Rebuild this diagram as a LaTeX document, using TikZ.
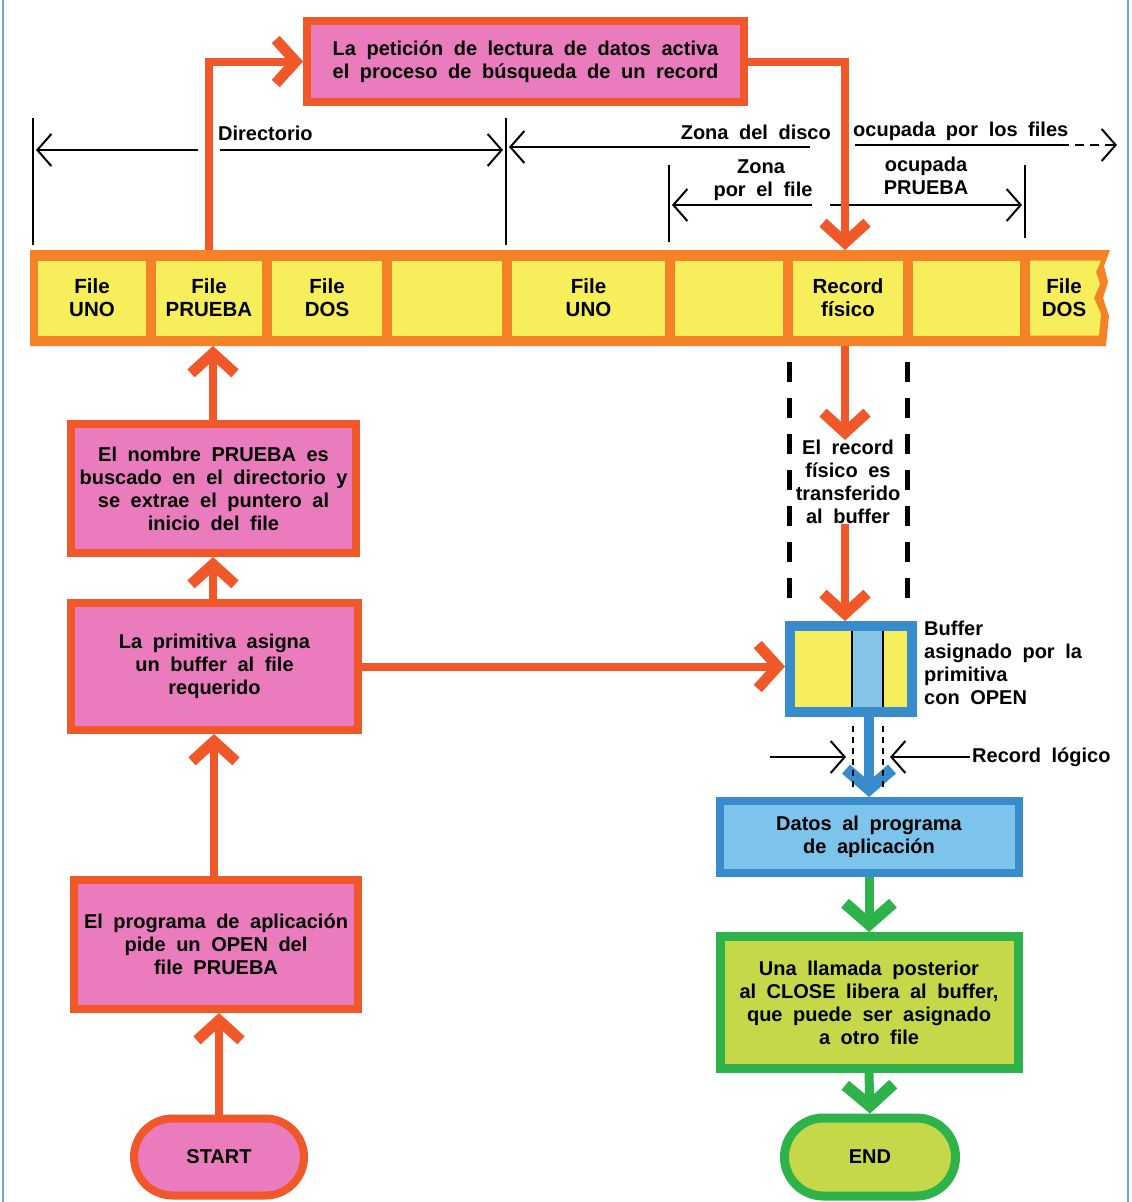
\documentclass[tikz,border=0pt]{standalone}
\usepackage{fontspec}
\setmainfont{Liberation Sans}[WordSpace=1.9]
\usetikzlibrary{arrows.meta,shapes.misc}

\definecolor{boxred}{RGB}{240,88,42}
\definecolor{stripor}{RGB}{246,130,40}
\definecolor{pinkfill}{RGB}{234,124,190}
\definecolor{cellyel}{RGB}{246,238,90}
\definecolor{bufblue}{RGB}{56,140,204}
\definecolor{datafill}{RGB}{124,196,236}
\definecolor{midblue}{RGB}{132,196,228}
\definecolor{grnline}{RGB}{46,178,74}
\definecolor{grnfill}{RGB}{196,216,74}
\definecolor{framebl}{RGB}{96,176,214}

\tikzset{
  every node/.style={font=\bfseries\fontsize{20}{23}\selectfont, text=black, inner sep=0pt},
  pinkbox/.style={draw=boxred, line width=8pt, fill=pinkfill, align=center},
  cellbox/.style={fill=cellyel, minimum height=75pt, align=center,
                  font=\bfseries\fontsize{20.5}{23}\selectfont},
  bluebox/.style={draw=bufblue, line width=8pt, fill=datafill, align=center},
  greenbox/.style={draw=grnline, line width=9pt, fill=grnfill, align=center},
  oarrow/.style={draw=boxred, line width=8pt,
                 -{Straight Barb[length=20pt,width=44pt,line width=0pt 1.35]}},
  garrow/.style={draw=grnline, line width=9pt,
                 -{Straight Barb[length=21pt,width=48pt,line width=0pt 1.3]}},
  barrow/.style={draw=bufblue, line width=10pt,
                 -{Straight Barb[length=20pt,width=46pt,line width=0pt 1.2]}},
  dimline/.style={draw=black, line width=2pt},
  dimarrow/.style={draw=black, line width=2pt, -{Straight Barb[length=14pt,width=32pt]}},
  lbl/.style={anchor=base},
}

\begin{document}
\begin{tikzpicture}[x=1pt,y=-1pt]
  \useasboundingbox (0,0) rectangle (1132,1202);
  \fill[white] (0,0) rectangle (1132,1202);

  % page frame
  \draw[framebl, line width=2pt] (3,0) -- (3,1202);
  \draw[framebl, line width=2pt] (1128,0) -- (1128,1202);

  % ---------- disk strip ----------
  \fill[stripor] (30,250) -- (1110,250) -- (1104,266) -- (1108,282) -- (1103,298)
      -- (1109,316) -- (1106,346) -- (30,346) -- cycle;
  \coordinate (disktop) at (0,250);
  \coordinate (diskbot) at (0,346);
  \node[cellbox, minimum width=108pt] (c1) at (92,298)    {File\\UNO};
  \node[cellbox, minimum width=106pt] (c2) at (209,298)   {File\\PRUEBA};
  \node[cellbox, minimum width=110pt] (c3) at (327,298)   {File\\DOS};
  \node[cellbox, minimum width=110pt] (c4) at (447,298)   {};
  \node[cellbox, minimum width=153pt] (c5) at (588.5,298) {File\\UNO};
  \node[cellbox, minimum width=108pt] (c6) at (729,298)   {};
  \node[cellbox, minimum width=110pt] (c7) at (848,298)   {Record\\físico};
  \node[cellbox, minimum width=107pt] (c8) at (966.5,298) {};
  \fill[cellyel] (1030,260.5) -- (1101,260.5) -- (1096,272) -- (1100,284) -- (1094,298)
      -- (1101,314) -- (1099,335.5) -- (1030,335.5) -- cycle;
  \node[align=center, font=\bfseries\fontsize{20.5}{23}\selectfont] (c9) at (1064,298) {File\\DOS};

  % ---------- top request box ----------
  \node[pinkbox, minimum width=437pt, minimum height=81pt, align=left] (req) at (525.5,61.5)
    {La petición de lectura de datos activa\\el proceso de búsqueda de un record};

  % ---------- dimension lines ----------
  \draw[dimline] (33,118) -- (33,245);
  \draw[dimline] (506,118) -- (506,245);
  \draw[dimarrow] (198,150) -- (36,150);
  \draw[dimarrow] (220,150) -- (503,150);
  \node[anchor=base west] (dirlbl) at (218,140) {Directorio};

  \draw[dimarrow] (810,147) -- (509,147);
  \node[anchor=base east] (zdisco) at (831,139) {Zona del disco};
  \draw[dimline] (855,145) -- (1060,145);
  \draw[dimarrow, dash pattern=on 9pt off 6pt] (1060,145) -- (1117,145);
  \node[anchor=base west] (zfiles) at (853,136) {ocupada por los files};

  \draw[dimline] (669,165) -- (669,242);
  \draw[dimline] (1025,165) -- (1025,238);
  \draw[dimarrow] (812,205) -- (672,205);
  \draw[dimarrow] (830,205) -- (1022,205);
  \node[lbl] (zona) at (761,173) {Zona};
  \node[lbl] (porfile) at (763,196) {por el file};
  \node[lbl] (ocup) at (926,171) {ocupada};
  \node[lbl] (prueba) at (926,194) {PRUEBA};

  % ---------- left column ----------
  \node[pinkbox, minimum width=285pt, minimum height=129pt] (b1) at (213.5,488.5)
    {El nombre PRUEBA es\\buscado en el directorio y\\se extrae el puntero al\\inicio del file};
  \node[pinkbox, minimum width=287pt, minimum height=127pt] (b2) at (214.5,666.5)
    {La primitiva asigna\\un buffer al file\\requerido};
  \node[pinkbox, minimum width=284pt, minimum height=129pt] (b3) at (216,944.5)
    {El programa de aplicación\\pide un OPEN del\\file PRUEBA};
  \node[pinkbox, rounded rectangle, minimum width=170pt, minimum height=77pt] (start) at (219,1157)
    {START};

  \draw[oarrow] (start.north) -- (start.north |- b3.south);
  \draw[oarrow] (b3.north -| 214,0) -- (214,0 |- b2.south);
  \draw[oarrow] (b2.north -| 213,0) -- (213,0 |- b1.south);
  \draw[oarrow] (b1.north -| 213,0) -- (213,0 |- diskbot);

  % request path: PRUEBA entry -> request box -> physical record
  \draw[oarrow] (c2.north |- disktop) |- (req.west);
  \draw[oarrow] (req.east) -| (845,0 |- disktop);

  % ---------- transfer to buffer ----------
  \draw[black, line width=5pt, dash pattern=on 20pt off 16pt] (789,362) -- (789,608);
  \draw[black, line width=5pt, dash pattern=on 20pt off 16pt] (907,362) -- (907,608);
  \node[align=center, fill=white, inner xsep=1pt] (xfer) at (848,482)
    {El record\\físico es\\transferido\\al buffer};

  \node[draw=bufblue, line width=10pt, fill=cellyel, minimum width=122pt, minimum height=86pt]
    (buf) at (851,669) {};
  \fill[midblue] (852,631) rectangle (883,707);
  \draw[black, line width=2.5pt] (852,631) -- (852,707);
  \draw[black, line width=2.5pt] (883,631) -- (883,707);
  \node[anchor=north west, align=left] (buflbl) at (924,621)
    {Buffer\\asignado por la\\primitiva\\con OPEN};

  \draw[oarrow] (845,0 |- diskbot) -- (845,0 |- xfer.north);
  \draw[oarrow] (845,0 |- xfer.south) -- (845,0 |- buf.north);
  \draw[oarrow] (b2.east) -- (b2.east -| buf.west);

  % ---------- logical record ----------
  \node[bluebox, minimum width=299pt, minimum height=72pt] (datos) at (869,837)
    {Datos al programa\\de aplicación};
  \draw[barrow] (869,0 |- buf.south) -- (869,0 |- datos.north);
  \draw[black, line width=2pt, dash pattern=on 6pt off 5pt] (853,726) -- (853,790);
  \draw[black, line width=2pt, dash pattern=on 6pt off 5pt] (883,726) -- (883,790);
  \draw[dimarrow] (770,757) -- (846,757);
  \draw[dimarrow] (970,757) -- (890,757);
  \node[anchor=west] (reclog) at (972,757) {Record lógico};

  % ---------- closing ----------
  \node[greenbox, minimum width=298pt, minimum height=132pt] (close) at (869,1002.5)
    {Una llamada posterior\\al CLOSE libera al buffer,\\que puede ser asignado\\a otro file};
  \node[greenbox, rounded rectangle, minimum width=171pt, minimum height=78pt] (end) at (870,1157)
    {END};
  \draw[garrow] (datos.south) -- (close.north);
  \draw[garrow] (close.south) -- (end.north);
\end{tikzpicture}
\end{document}
